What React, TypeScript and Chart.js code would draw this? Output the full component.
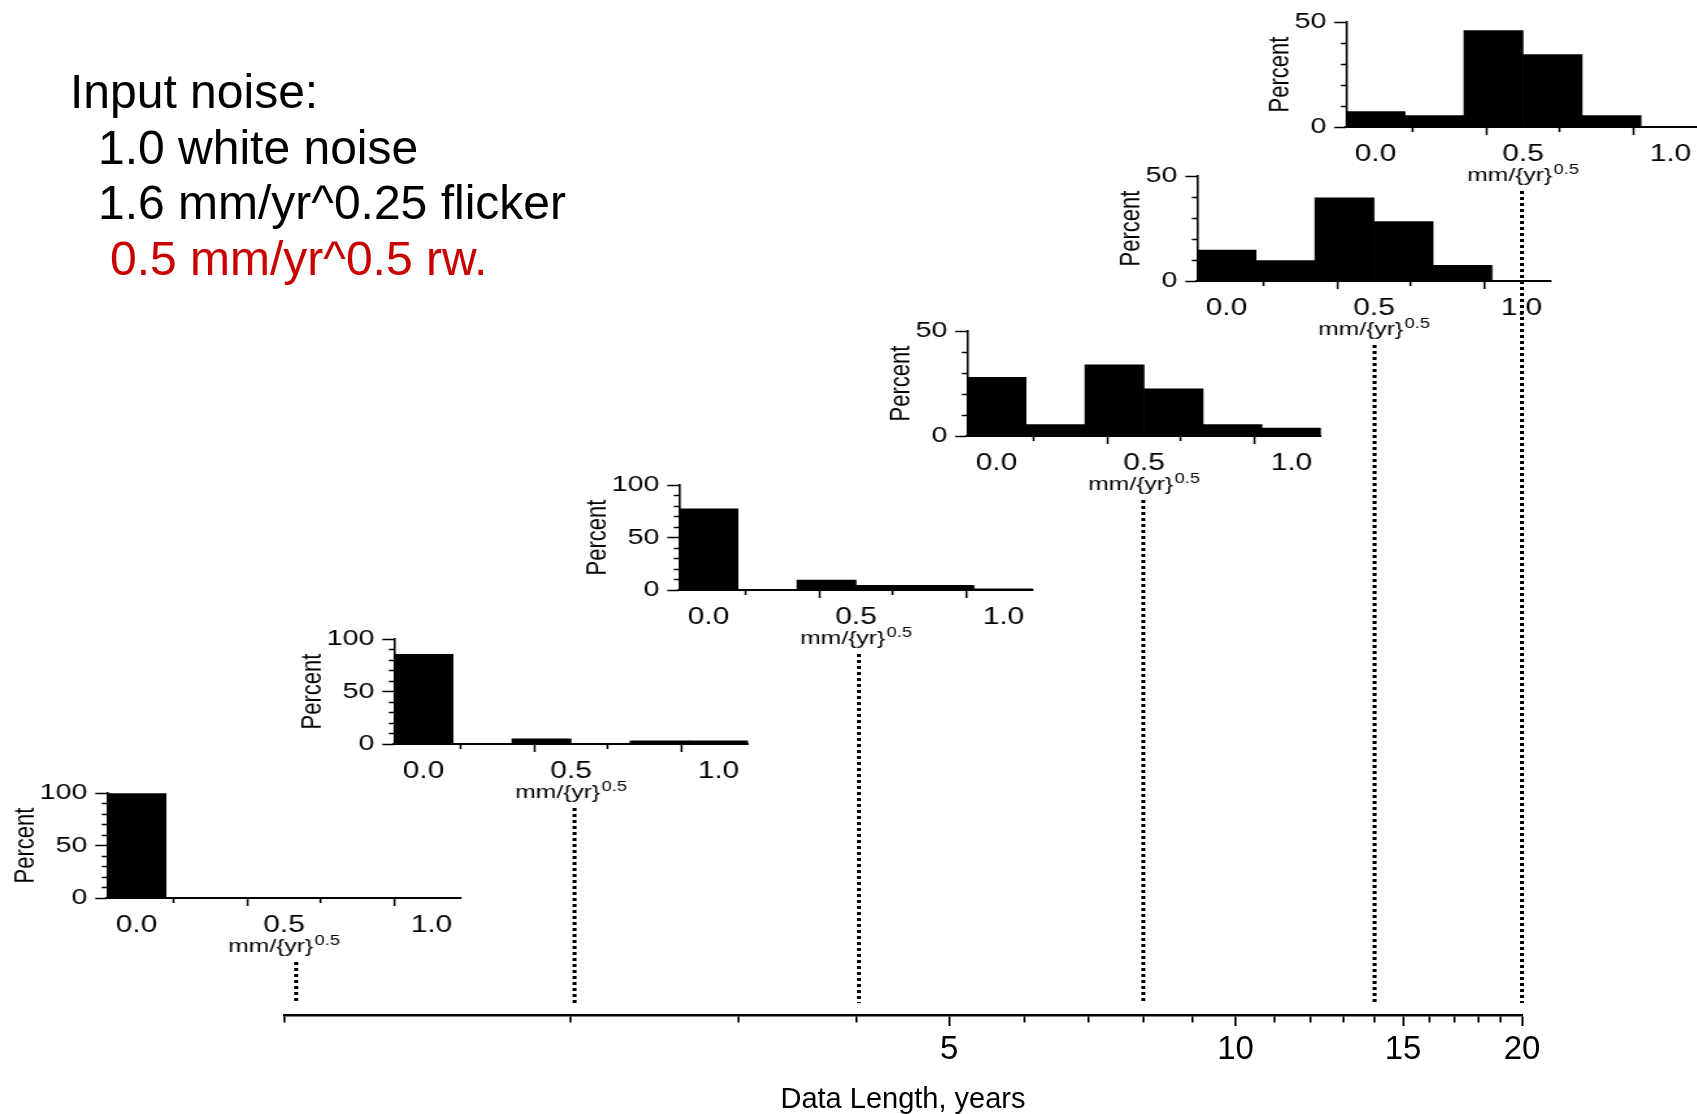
import React, { useEffect, useRef } from 'react';
import { Chart, registerables } from 'chart.js';

Chart.register(...registerables);

const FONT = '"Liberation Sans", Arial, Helvetica, sans-serif';

// ---------- data ----------
const binCenters = [0, 0.2, 0.4, 0.6, 0.8, 1.0];
const pct1yr = [100, 0, 0, 0, 0, 0];
const pct2yr = [85.5, 0, 5, 0, 3, 3];
const pct4yr = [77.5, 0, 9.5, 4.5, 4.5, 1];
const pct8yr = [28, 5.5, 34, 22.5, 5.5, 3.8];
const pct14yr = [14.8, 9.8, 39.7, 28.3, 7.5, 0];
const pct20yr = [7.3, 5.5, 46, 34.5, 5.5, 0];
const histograms = [pct1yr, pct2yr, pct4yr, pct8yr, pct14yr, pct20yr];
const percentMax = [100, 100, 100, 50, 50, 50];
const dataLengths = [1.03, 2.02, 4.02, 8, 14, 20];

const histTicksX = [0, 0.25, 0.5, 0.75, 1.0];
const histLabelsX = [0, 0.5, 1.0];
const yearTicks = [1, 2, 3, 4, 5, 6, 7, 8, 9, 10, 11, 12, 13, 14, 15, 16, 17, 18, 19, 20];
const yearLabels = [5, 10, 15, 20];

const unitText = 'mm/{yr}';
const unitSup = '0.5';
const yTitle = 'Percent';
const xTitle = 'Data Length, years';
const noiseHeader = 'Input noise:';
const noiseLines = ['1.0 white noise', '1.6 mm/yr^0.25 flicker'];
const noiseRed = '0.5 mm/yr^0.5 rw.';

// ---------- layout ----------
const W = 1697;
const H = 1114;
const AXIS_LEFT = 284;
const AXIS_RIGHT = 1522;
const AXIS_Y = 1015;
const STRETCH = 1.3;
const insetAxisX = [107, 394, 679, 967, 1197, 1346];
const insetZeroY = [898, 744, 590, 436, 281, 127];
const INSET_W = 362;
const INSET_H = 190;
const INSET_YAXIS_W = 107 / STRETCH;
const INSET_PLOT_W = 354 / STRETCH;
const INSET_PAD_TOP = 16;
const INSET_PAD_BOTTOM = 25;
const INSET_XAXIS_H = 41;
const INSET_BOTTOM = INSET_H - INSET_PAD_BOTTOM - INSET_XAXIS_H; // 124

const dottedLines = {
  id: 'dottedLines',
  afterDraw(chart: any) {
    const xs = chart.scales.x;
    const ctx = chart.ctx;
    ctx.save();
    ctx.strokeStyle = '#000';
    ctx.lineWidth = 4;
    ctx.setLineDash([3, 3]);
    dataLengths.forEach((len, i) => {
      const px = xs.getPixelForValue(len);
      const top = insetZeroY[i] + 64;
      const bottom = chart.chartArea.bottom - 12;
      ctx.beginPath();
      ctx.moveTo(px, top);
      ctx.lineTo(px, bottom);
      ctx.stroke();
    });
    ctx.restore();
  },
};

const unitTitle = {
  id: 'unitTitle',
  afterDraw(chart: any) {
    const { ctx, chartArea } = chart;
    const cx = (chartArea.left + chartArea.right) / 2;
    const y = chartArea.bottom + 54;
    ctx.save();
    ctx.fillStyle = '#000';
    ctx.textBaseline = 'alphabetic';
    ctx.textAlign = 'left';
    ctx.font = `19px ${FONT}`;
    const w1 = ctx.measureText(unitText).width;
    ctx.font = `14px ${FONT}`;
    const w2 = ctx.measureText(unitSup).width;
    const x0 = cx - (w1 + w2 + 1) / 2;
    ctx.font = `19px ${FONT}`;
    ctx.fillText(unitText, x0, y);
    ctx.font = `14px ${FONT}`;
    ctx.fillText(unitSup, x0 + w1 + 1, y - 7);
    ctx.restore();
  },
};

function MainAxis() {
  const ref = useRef<HTMLCanvasElement | null>(null);
  useEffect(() => {
    const chart = new Chart(ref.current as HTMLCanvasElement, {
      type: 'scatter',
      data: { datasets: [] },
      options: {
        animation: false,
        responsive: false,
        events: [],
        layout: { padding: { left: AXIS_LEFT, right: W - AXIS_RIGHT, top: 0, bottom: 0 } },
        plugins: { legend: { display: false }, tooltip: { enabled: false } },
        scales: {
          x: {
            type: 'logarithmic',
            position: 'bottom',
            min: 1,
            max: 20,
            afterBuildTicks: (s: any) => {
              s.ticks = yearTicks.map((v) => ({ value: v }));
            },
            afterFit: (s: any) => {
              s.height = H - AXIS_Y;
            },
            grid: {
              drawOnChartArea: false,
              drawTicks: true,
              tickLength: 11,
              tickWidth: 2,
              tickColor: '#000',
              tickBorderDash: (c: any) => (yearLabels.includes(c.tick?.value) ? [] : [6, 40]),
            },
            border: { display: true, color: '#000', width: 2.5 },
            ticks: {
              autoSkip: false,
              maxRotation: 0,
              minRotation: 0,
              padding: 7.5,
              color: '#000',
              font: { family: FONT, size: 33, lineHeight: 1 },
              callback: (v: any) => (yearLabels.includes(Number(v)) ? String(v) : ''),
            },
            title: {
              display: true,
              text: xTitle,
              color: '#000',
              font: { family: FONT, size: 29, lineHeight: 1 },
              padding: { top: 0, bottom: 0 },
            },
          } as any,
          y: { display: false, min: 0, max: 1 },
        },
      },
      plugins: [dottedLines],
    });
    return () => chart.destroy();
  }, []);
  return <canvas ref={ref} width={W} height={H} style={{ position: 'absolute', left: 0, top: 0 }} />;
}

function Inset({ idx }: { idx: number }) {
  const ref = useRef<HTMLCanvasElement | null>(null);
  useEffect(() => {
    const values = histograms[idx];
    const yMax = percentMax[idx];
    const yTicks: number[] = [];
    for (let v = 0; v <= yMax; v += 10) yTicks.push(v);
    const titlePad = yMax >= 100 ? 6.8 : 19.1;
    const chart = new Chart(ref.current as HTMLCanvasElement, {
      type: 'bar',
      data: {
        datasets: [
          {
            data: binCenters.map((x, i) => ({ x, y: values[i] })),
            backgroundColor: '#000',
            borderWidth: 0,
            barPercentage: 1,
            categoryPercentage: 1,
          } as any,
        ],
      },
      options: {
        animation: false,
        responsive: false,
        events: [],
        layout: {
          padding: {
            left: 0,
            top: INSET_PAD_TOP,
            right: INSET_W - INSET_YAXIS_W - INSET_PLOT_W,
            bottom: INSET_PAD_BOTTOM,
          },
        },
        plugins: { legend: { display: false }, tooltip: { enabled: false } },
        scales: {
          x: {
            type: 'linear',
            min: -0.1,
            max: 1.1,
            offset: false,
            afterBuildTicks: (s: any) => {
              s.ticks = histTicksX.map((v) => ({ value: v }));
            },
            afterFit: (s: any) => {
              s.height = INSET_XAXIS_H;
            },
            grid: {
              drawOnChartArea: false,
              tickLength: 8,
              tickWidth: 1.5,
              tickColor: '#000',
              tickBorderDash: (c: any) => (histLabelsX.includes(c.tick?.value) ? [] : [4, 40]),
            },
            border: { display: true, color: '#000', width: 2 },
            ticks: {
              autoSkip: false,
              maxRotation: 0,
              minRotation: 0,
              padding: 6,
              color: '#000',
              font: { family: FONT, size: 23, lineHeight: 1.2 },
              callback: (v: any) => (histLabelsX.includes(Number(v)) ? Number(v).toFixed(1) : ''),
            },
          } as any,
          y: {
            min: 0,
            max: yMax,
            afterBuildTicks: (s: any) => {
              s.ticks = yTicks.map((v) => ({ value: v }));
            },
            afterFit: (s: any) => {
              s.width = INSET_YAXIS_W;
            },
            grid: {
              drawOnChartArea: false,
              tickLength: 9,
              tickWidth: 1.5,
              tickColor: '#000',
              tickBorderDash: (c: any) => (c.tick && c.tick.value % 50 === 0 ? [] : [0, 5, 4, 0]),
            },
            border: { display: true, color: '#000', width: 1.6 },
            ticks: {
              autoSkip: false,
              padding: 6,
              color: '#000',
              font: { family: FONT, size: 22, lineHeight: 1.2 },
              callback: (v: any) => (Number(v) % 50 === 0 ? String(v) : ''),
            },
            title: {
              display: true,
              text: yTitle,
              color: '#000',
              font: { family: FONT, size: 22, lineHeight: 1.2 },
              padding: { top: titlePad, bottom: 0 },
            },
          } as any,
        },
      },
      plugins: [unitTitle],
    });
    return () => chart.destroy();
  }, [idx]);
  return (
    <div
      style={{
        position: 'absolute',
        left: insetAxisX[idx] - 107,
        top: insetZeroY[idx] - INSET_BOTTOM,
        width: INSET_W,
        height: INSET_H,
        transform: `scaleX(${STRETCH})`,
        transformOrigin: '0 0',
      }}
    >
      <canvas ref={ref} width={INSET_W} height={INSET_H} />
    </div>
  );
}

export default function App() {
  return (
    <div
      style={{
        position: 'fixed',
        left: 0,
        top: 0,
        width: W,
        height: H,
        overflow: 'hidden',
        background: '#fff',
      }}
    >
      <MainAxis />
      {histograms.map((_, i) => (
        <Inset key={i} idx={i} />
      ))}
      <div
        style={{
          position: 'absolute',
          left: 70,
          top: 64,
          font: `48px ${FONT}`,
          lineHeight: '55.5px',
          color: '#000',
          whiteSpace: 'pre',
        }}
      >
        <div>{noiseHeader}</div>
        {noiseLines.map((t, i) => (
          <div key={i} style={{ paddingLeft: 28 }}>
            {t}
          </div>
        ))}
        <div style={{ paddingLeft: 40, color: '#c80000' }}>{noiseRed}</div>
      </div>
    </div>
  );
}
